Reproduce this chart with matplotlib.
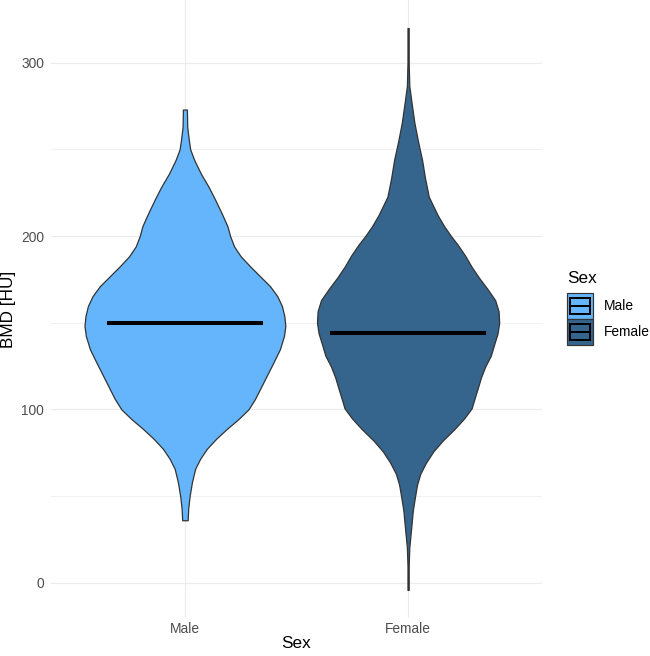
import matplotlib.pyplot as plt
import numpy as np
from matplotlib.legend_handler import HandlerBase
from matplotlib.patches import Rectangle, Patch
from matplotlib.lines import Line2D

plt.rcParams['font.family'] = ['Liberation Sans', 'DejaVu Sans']

# categories and colours
groups = ["Male", "Female"]
fills = ["#64B5FC", "#35648C"]

# violin outlines: BMD level and relative density (male max = 100)
male_bmd = [273, 263, 255, 250, 244, 236, 228.5, 221, 213, 205.6,
            200, 194, 188.3, 182.6, 176.8, 171.1, 165.3, 159.6, 153.8, 148.1,
            142.3, 134.7, 127, 119.3, 111.7, 106, 100, 94.4, 88.7, 83,
            77.2, 71.5, 65.7, 58, 50, 42.7, 36]
male_density = [2, 2.3, 4, 5.3, 9.2, 15.9, 23.5, 30.1, 36.7, 42.4,
                45, 49, 55.6, 64.8, 74.8, 84.7, 92, 96.6, 99, 100,
                98.6, 94.6, 88.1, 81.4, 74.8, 69.8, 63.3, 53.3, 41.7, 31.1,
                21.8, 15.2, 10.2, 7, 4.7, 3.3, 2.7]

female_bmd = [320, 300, 286.6, 275.9, 265.3, 254.6, 244, 233.3, 222.7, 212,
              205.6, 200, 195, 188.6, 182.2, 175.8, 169.4, 163, 156.6, 150,
              143.8, 137.5, 131, 124.7, 118.3, 111.9, 105.5, 100.6, 94.8, 88.5,
              82, 75.7, 69.3, 62.9, 56.5, 50, 41.6, 31, 20.3, 9.6, -4.2]
female_density = [0.6, 0.6, 1.2, 3.7, 6.3, 9.9, 13.9, 16.9, 20.6, 29.5,
                  36, 42.7, 49.4, 56.9, 63.3, 70.8, 79.1, 86.7, 90.1, 90.7,
                  89.1, 85.7, 82.4, 76.8, 72.5, 69.2, 65.8, 63.3, 55.9, 46,
                  34.5, 25.1, 17.9, 12.2, 8.9, 7, 4.7, 3, 1.2, 0.6, 0.6]

medians = [150, 144]

fig = plt.figure(figsize=(6.5, 6.56), dpi=100)
ax = fig.add_axes([51 / 650, 38 / 656, 491 / 650, 618 / 656])

profiles = [(male_bmd, male_density), (female_bmd, female_density)]
for i, (bmd, dens) in enumerate(profiles):
    pos = i + 1
    half = np.array(dens) / 100 * 0.45
    ax.fill_betweenx(bmd, pos - half, pos + half, facecolor=fills[i],
                     edgecolor="#333333", linewidth=0.9, zorder=3)
    ax.hlines(medians[i], pos - 0.35, pos + 0.35, color="black", linewidth=2.9, zorder=4)

all_bmd = male_bmd + female_bmd
lo, hi = min(all_bmd), max(all_bmd)
pad = (hi - lo) * 0.05
ax.set_ylim(lo - pad, hi + pad)
ax.set_xlim(0.4, 2.6)

ax.set_xticks([1, 2])
ax.set_xticklabels(groups)
ax.set_yticks([0, 100, 200, 300])
ax.set_yticks([50, 150, 250], minor=True)
ax.grid(which="major", color="#EBEBEB", linewidth=0.85, zorder=0)
ax.grid(which="minor", axis="y", color="#EBEBEB", linewidth=0.5, zorder=0)
ax.set_axisbelow(True)
for s in ax.spines.values():
    s.set_visible(False)
ax.tick_params(which="both", length=0, labelsize=9.9, labelcolor="#4D4D4D")
ax.tick_params(axis="y", pad=5)
ax.tick_params(axis="x", pad=3)

ax.set_xlabel("Sex", fontsize=12.3, labelpad=0)
ax.set_ylabel("BMD [HU]", fontsize=12.3)
ax.yaxis.set_label_coords((9 - 51) / 491, 0.5)
ax.yaxis.label.set_va("center")


class CrossbarKey(HandlerBase):
    def create_artists(self, legend, orig_handle, xdescent, ydescent, width, height, fontsize, trans):
        fc = orig_handle.get_facecolor()
        x0, y0 = -xdescent, -ydescent
        outer = Rectangle((x0, y0), width, height, facecolor=fc, edgecolor="#333333",
                          linewidth=0.85, transform=trans)
        inner = Rectangle((x0 + 0.1 * width, y0 + 0.2 * height), 0.8 * width, 0.6 * height,
                          facecolor=fc, edgecolor="black", linewidth=1.4, transform=trans)
        mid = Line2D([x0 + 0.1 * width, x0 + 0.9 * width], [y0 + 0.5 * height] * 2,
                     color="black", linewidth=1.4, transform=trans)
        return [outer, inner, mid]


handles = [Patch(facecolor=c) for c in fills]
leg = fig.legend(handles, groups, handler_map={Patch: CrossbarKey()},
                 loc="center left", bbox_to_anchor=(567 / 650, 1 - 308 / 656),
                 frameon=False, fontsize=9.9, title="Sex", title_fontsize=12.3,
                 handlelength=1.89, handleheight=2.53, labelspacing=0.0,
                 handletextpad=0.8, borderpad=0, borderaxespad=0, alignment="left")
# gap between legend title and keys
leg._legend_box.sep = 5

fig.savefig("out.png", dpi=100)
